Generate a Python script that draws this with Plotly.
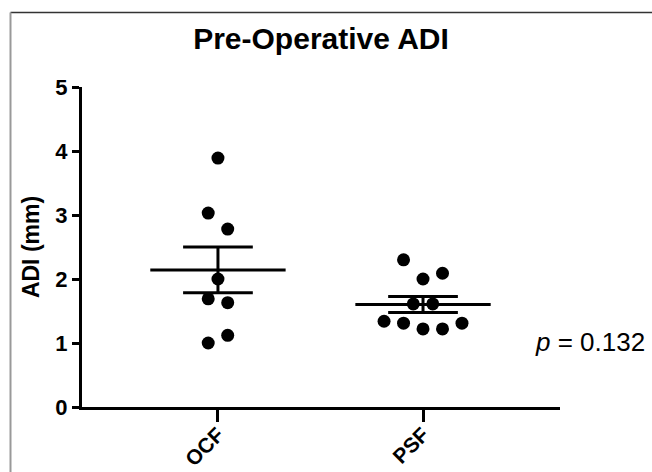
import numpy as np
import plotly.graph_objects as go

categories = ["OCF", "PSF"]
ocf_values = [3.89, 3.03, 2.78, 2.00, 1.69, 1.63, 1.12, 1.00]
psf_values = [2.30, 2.09, 2.00, 1.61, 1.61, 1.34, 1.31, 1.22, 1.22, 1.31]
y_ticks = [0, 1, 2, 3, 4, 5]
p_text = "<i>p</i> = 0.132"
title_text = "Pre-Operative ADI"
y_title = "ADI (mm)"

# scatter column layout (in units of one dot step)
ocf_cols = [0, -0.5, 0.5, 0, -0.5, 0.5, 0.5, -0.5]
psf_cols = [-1, 1, 0, -0.5, 0.5, -2, -1, 0, 1, 2]
STEP = 0.095
MEAN_HW = 0.33
CAP_HW = 0.17

FONT = "Liberation Sans, Arial, Helvetica, sans-serif"

fig = go.Figure()

groups = [(0, ocf_values, ocf_cols), (1, psf_values, psf_cols)]
for xi, vals, cols in groups:
    v = np.array(vals)
    xs = [xi + c * STEP for c in cols]
    fig.add_trace(go.Scatter(x=xs, y=vals, mode="markers",
                             marker=dict(size=13, color="black", line=dict(width=0)),
                             showlegend=False, hoverinfo="y"))
    m = v.mean()
    sem = v.std(ddof=1) / np.sqrt(len(v))
    fig.add_trace(go.Scatter(x=[xi - MEAN_HW, xi + MEAN_HW], y=[m, m], mode="lines",
                             line=dict(color="black", width=3), showlegend=False, hoverinfo="skip"))
    fig.add_trace(go.Scatter(
        x=[xi, xi, None, xi - CAP_HW, xi + CAP_HW, None, xi - CAP_HW, xi + CAP_HW],
        y=[m - sem, m + sem, None, m + sem, m + sem, None, m - sem, m - sem],
        mode="lines", line=dict(color="black", width=3), showlegend=False, hoverinfo="skip"))

fig.update_layout(
    width=652, height=472,
    margin=dict(l=82, r=92, t=87, b=65, autoexpand=False),
    paper_bgcolor="white", plot_bgcolor="white",
    font=dict(family=FONT, color="black"),
    title=dict(text=title_text, x=321 / 652, xref="container", xanchor="center",
               y=1 - 38 / 472, yref="container", yanchor="middle",
               font=dict(size=30, family=FONT, color="black", weight="bold")),
    xaxis=dict(range=[-0.663, 1.668], tickvals=[0, 1], ticktext=categories,
               tickangle=-45, showline=True, linecolor="black", linewidth=3,
               ticks="outside", ticklen=12, tickwidth=3, tickcolor="black",
               ticklabelstandoff=-8,
               showgrid=False, zeroline=False, automargin=False,
               tickfont=dict(size=21, family=FONT, color="black", weight="bold")),
    yaxis=dict(range=[0, 5], tickvals=y_ticks, showline=True, linecolor="black", linewidth=3,
               ticks="outside", ticklen=7, tickwidth=3, tickcolor="black",
               showgrid=False, zeroline=False, automargin=False,
               tickfont=dict(size=22, family=FONT, color="black", weight="bold"),
               title=dict(text=y_title, standoff=10,
                          font=dict(size=23, family=FONT, color="black", weight="bold"))),
    annotations=[dict(text=p_text, xref="paper", yref="paper", x=(647 - 82) / 478,
                      y=(407 - 342) / 320, xanchor="right", yanchor="middle",
                      showarrow=False, font=dict(size=26, family=FONT, color="black"))],
    shapes=[
        dict(type="line", xref="paper", yref="paper", x0=(10.5 - 82) / 478, x1=1.3,
             y0=(407 - 12.5) / 320, y1=(407 - 12.5) / 320, line=dict(color="#333333", width=1.5)),
        dict(type="line", xref="paper", yref="paper", x0=(10.5 - 82) / 478, x1=(10.5 - 82) / 478,
             y0=(407 - 12.5) / 320, y1=-0.4, line=dict(color="#999999", width=2)),
    ],
)

fig.write_html("out.html", config={"displayModeBar": False},
               post_script="document.body.style.margin='0';")
